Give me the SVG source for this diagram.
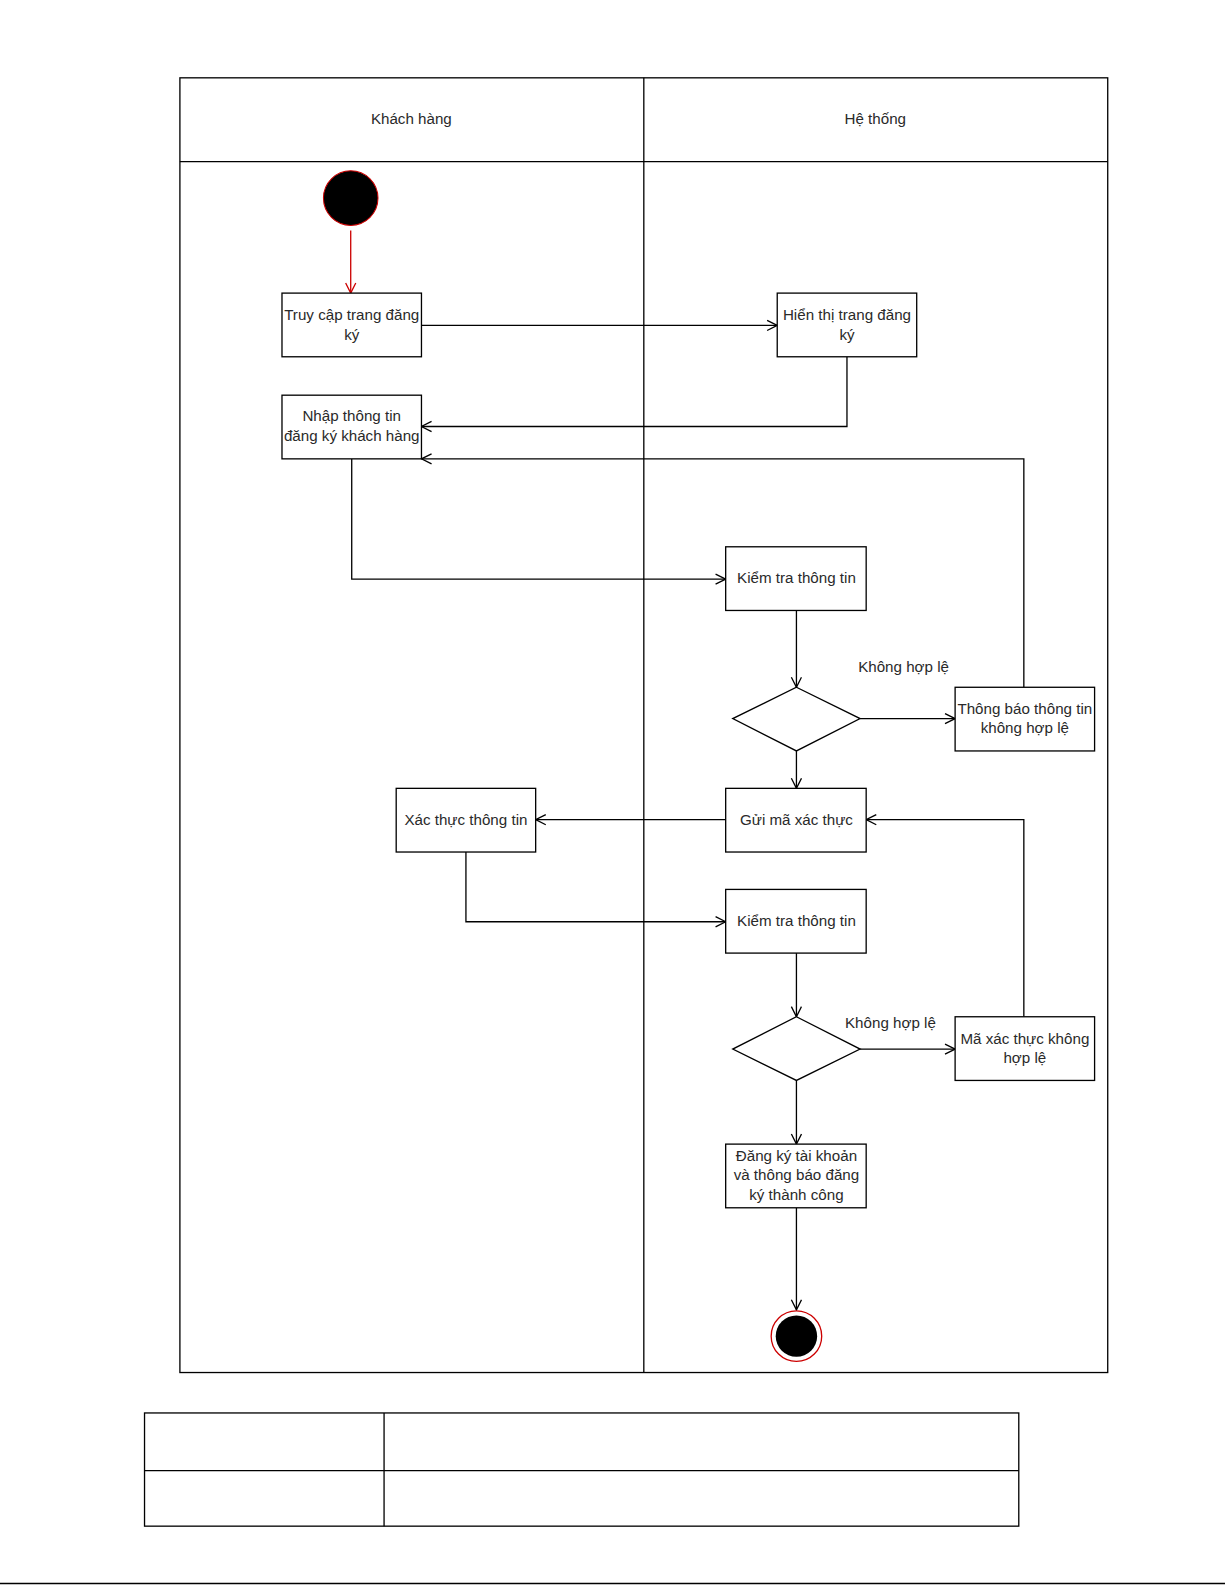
<svg xmlns="http://www.w3.org/2000/svg" width="1225" height="1585" viewBox="0 0 1225 1585">
<style>
.box{fill:#fff;stroke:#000;stroke-width:1.3}
.ln{fill:none;stroke:#000;stroke-width:1.3}
.t{font-family:"Liberation Sans",Arial,sans-serif;font-size:15px;fill:#2a2a2a;text-anchor:middle}
</style>
<defs>
<marker id="a" viewBox="0 0 12 12" refX="11" refY="6" markerWidth="12" markerHeight="12" markerUnits="userSpaceOnUse" orient="auto">
<path d="M1,1 L11,6 L1,11" fill="none" stroke="#000" stroke-width="1.3"/>
</marker>
<marker id="ar" viewBox="0 0 12 12" refX="11" refY="6" markerWidth="12" markerHeight="12" markerUnits="userSpaceOnUse" orient="auto">
<path d="M1,1 L11,6 L1,11" fill="none" stroke="#c00" stroke-width="1.3"/>
</marker>
</defs>
<rect width="1225" height="1585" fill="#fff"/>
<g transform="scale(1.0107)">
<g id="pool">
<rect x="178" y="77" width="918" height="1281" class="ln"/>
<line x1="178" y1="160" x2="1096" y2="160" class="ln"/>
<line x1="637" y1="77" x2="637" y2="1358" class="ln"/>
<text x="407" y="123" class="t">Khách hàng</text>
<text x="866" y="123" class="t">Hệ thống</text>
</g>
<g id="connectors">
<line x1="347" y1="228" x2="347" y2="290" stroke="#c00" stroke-width="1.3" marker-end="url(#ar)"/>
<line x1="417" y1="322" x2="769" y2="322" class="ln" marker-end="url(#a)"/>
<polyline points="838,353 838,422 417,422" class="ln" marker-end="url(#a)"/>
<polyline points="1013,680 1013,454 417,454" class="ln" marker-end="url(#a)"/>
<polyline points="348,454 348,573 718,573" class="ln" marker-end="url(#a)"/>
<line x1="788" y1="604" x2="788" y2="680" class="ln" marker-end="url(#a)"/>
<line x1="851" y1="711" x2="945" y2="711" class="ln" marker-end="url(#a)"/>
<line x1="788" y1="743" x2="788" y2="780" class="ln" marker-end="url(#a)"/>
<line x1="718" y1="811" x2="530" y2="811" class="ln" marker-end="url(#a)"/>
<polyline points="1013,1006 1013,811 857,811" class="ln" marker-end="url(#a)"/>
<polyline points="461,843 461,912 718,912" class="ln" marker-end="url(#a)"/>
<line x1="788" y1="943" x2="788" y2="1006" class="ln" marker-end="url(#a)"/>
<line x1="851" y1="1038" x2="945" y2="1038" class="ln" marker-end="url(#a)"/>
<line x1="788" y1="1069" x2="788" y2="1132" class="ln" marker-end="url(#a)"/>
<line x1="788" y1="1195" x2="788" y2="1296" class="ln" marker-end="url(#a)"/>
<text x="894" y="665" class="t">Không hợp lệ</text>
<text x="881" y="1017" class="t">Không hợp lệ</text>
</g>
<g id="start"><circle cx="347" cy="196" r="27" fill="#000" stroke="#c00" stroke-width="1"/></g>
<g id="n1"><rect x="279" y="290" width="138" height="63" class="box"/><text x="348" y="317" class="t">Truy cập trang đăng</text><text x="348" y="336" class="t">ký</text></g>
<g id="n2"><rect x="769" y="290" width="138" height="63" class="box"/><text x="838" y="317" class="t">Hiển thị trang đăng</text><text x="838" y="336" class="t">ký</text></g>
<g id="n3"><rect x="279" y="391" width="138" height="63" class="box"/><text x="348" y="417" class="t">Nhập thông tin</text><text x="348" y="436" class="t">đăng ký khách hàng</text></g>
<g id="n4"><rect x="718" y="541" width="139" height="63" class="box"/><text x="788" y="577" class="t">Kiểm tra thông tin</text></g>
<g id="d1"><polygon points="788,680 851,711 788,743 725,711" class="box"/></g>
<g id="n5"><rect x="945" y="680" width="138" height="63" class="box"/><text x="1014" y="706" class="t">Thông báo thông tin</text><text x="1014" y="725" class="t">không hợp lệ</text></g>
<g id="n6"><rect x="718" y="780" width="139" height="63" class="box"/><text x="788" y="816" class="t">Gửi mã xác thực</text></g>
<g id="n7"><rect x="392" y="780" width="138" height="63" class="box"/><text x="461" y="816" class="t">Xác thực thông tin</text></g>
<g id="n8"><rect x="718" y="880" width="139" height="63" class="box"/><text x="788" y="916" class="t">Kiểm tra thông tin</text></g>
<g id="d2"><polygon points="788,1006 851,1038 788,1069 725,1038" class="box"/></g>
<g id="n9"><rect x="945" y="1006" width="138" height="63" class="box"/><text x="1014" y="1033" class="t">Mã xác thực không</text><text x="1014" y="1052" class="t">hợp lệ</text></g>
<g id="n10"><rect x="718" y="1132" width="139" height="63" class="box"/><text x="788" y="1149" class="t">Đăng ký tài khoản</text><text x="788" y="1168" class="t">và thông báo đăng</text><text x="788" y="1187" class="t">ký thành công</text></g>
<g id="end"><circle cx="788" cy="1322" r="25" fill="#fff" stroke="#c00" stroke-width="1.3"/><circle cx="788" cy="1322" r="20.5" fill="#000"/></g>
<g id="table">
<rect x="143" y="1398" width="865" height="112" class="ln" stroke-width="1.5"/>
<line x1="143" y1="1455" x2="1008" y2="1455" class="ln"/>
<line x1="380" y1="1398" x2="380" y2="1510" class="ln"/>
</g>
</g>
<line x1="0" y1="1583.5" x2="1225" y2="1583.5" stroke="#000" stroke-width="1.5"/>
</svg>
